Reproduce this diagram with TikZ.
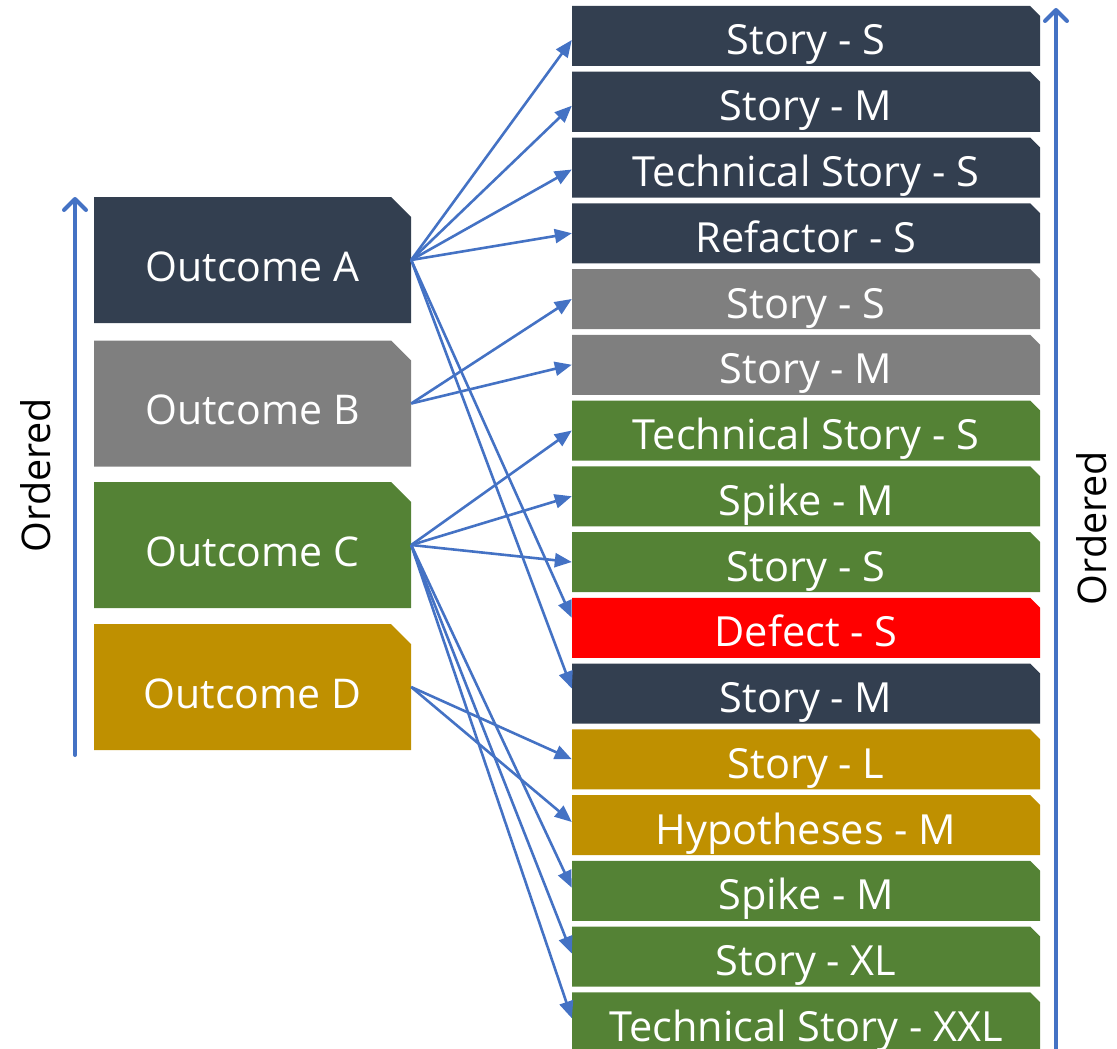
\documentclass[tikz,border=0pt]{standalone}
\usepackage{fontspec}
\setmainfont{Open Sans}
\usetikzlibrary{arrows.meta}

\definecolor{cdark}{HTML}{333F50}
\definecolor{cgrey}{HTML}{7F7F7F}
\definecolor{cgreen}{HTML}{548235}
\definecolor{cgold}{HTML}{BF9000}
\definecolor{cred}{HTML}{FF0000}
\definecolor{cblue}{HTML}{4472C4}

\tikzset{
  % filled card with the top right corner cut off
  cutcard/.style 2 args={shape=rectangle, inner sep=0pt, text=white,
    path picture={
      \fill[#1] (path picture bounding box.south west)
        -- (path picture bounding box.north west)
        -- ([xshift=-#2]path picture bounding box.north east)
        -- ([yshift=-#2]path picture bounding box.north east)
        -- (path picture bounding box.south east) -- cycle;}},
  outcome/.style={cutcard={#1}{20pt}, minimum width=317pt, minimum height=126pt,
    text height=42pt, text depth=0pt, font=\fontsize{41}{48}\selectfont},
  item/.style={cutcard={#1}{10pt}, minimum width=468pt, minimum height=60pt,
    text height=38pt, text depth=0pt, font=\fontsize{41.5}{48}\selectfont},
  link/.style={draw=cblue, line width=2.6pt, -{Triangle[length=17pt,width=14pt]}},
  axis/.style={draw=cblue, line width=4pt, line cap=round,
    -{Straight Barb[length=11pt,width=22pt,line cap=round,line join=round]}},
  sidelabel/.style={rotate=90, inner sep=0pt, font=\fontsize{39.5}{46}\selectfont, text=black},
}

\begin{document}
\begin{tikzpicture}[x=1pt, y=-1pt]
\useasboundingbox (0,0) rectangle (1117,1049);

% outcomes
\node[outcome=cdark]  (oa) at (252.5,260) {Outcome A};
\node[outcome=cgrey]  (ob) at (252.5,403.5) {Outcome B};
\node[outcome=cgreen] (oc) at (252.5,545) {Outcome C};
\node[outcome=cgold]  (od) at (252.5,687) {Outcome D};

% backlog items
\foreach \lab/\col [count=\i] in {
  Story - S/cdark, Story - M/cdark, Technical Story - S/cdark, Refactor - S/cdark,
  Story - S/cgrey, Story - M/cgrey,
  Technical Story - S/cgreen, Spike - M/cgreen, Story - S/cgreen,
  Defect - S/cred, Story - M/cdark,
  Story - L/cgold, Hypotheses - M/cgold,
  Spike - M/cgreen, Story - XL/cgreen, Technical Story - XXL/cgreen}
  \node[item=\col] (r\i) at (806,{36+(\i-1)*65.75}) {\lab};

% ordering axes
\coordinate (lbot) at (75,755);
\coordinate (ltop) at (75,197);
\draw[axis] (lbot) -- (ltop);
\coordinate (rbot) at (1056,1052);
\coordinate (rtop) at (1056,8);
\draw[axis] (rbot) -- (rtop);
\node[sidelabel] (lord) at (36,475) {Ordered};
\node[sidelabel] (rord) at (1092,528) {Ordered};

% links from outcomes to items
\draw[link] (oa.east) -- ([yshift=-4pt]r1.west);
\draw[link] (oa.east) -- ([yshift=-4pt]r2.west);
\draw[link] (oa.east) -- ([yshift=-2pt]r3.west);
\draw[link] (oa.east) -- (r4.west);
\draw[link] (oa.east) -- ([yshift=10pt]r10.west);
\draw[link] (oa.east) -- ([yshift=5pt]r11.west);

\draw[link] (ob.east) -- (r5.west);
\draw[link] (ob.east) -- (r6.west);

\draw[link] (oc.east) -- (r7.west);
\draw[link] (oc.east) -- (r8.west);
\draw[link] (oc.east) -- (r9.west);
\draw[link] (oc.east) -- ([yshift=3pt]r14.west);
\draw[link] (oc.east) -- ([yshift=3pt]r15.west);
\draw[link] (oc.east) -- ([yshift=4pt]r16.west);

\draw[link] (od.east) -- (r12.west);
\draw[link] (od.east) -- ([yshift=3pt]r13.west);
\end{tikzpicture}
\end{document}
